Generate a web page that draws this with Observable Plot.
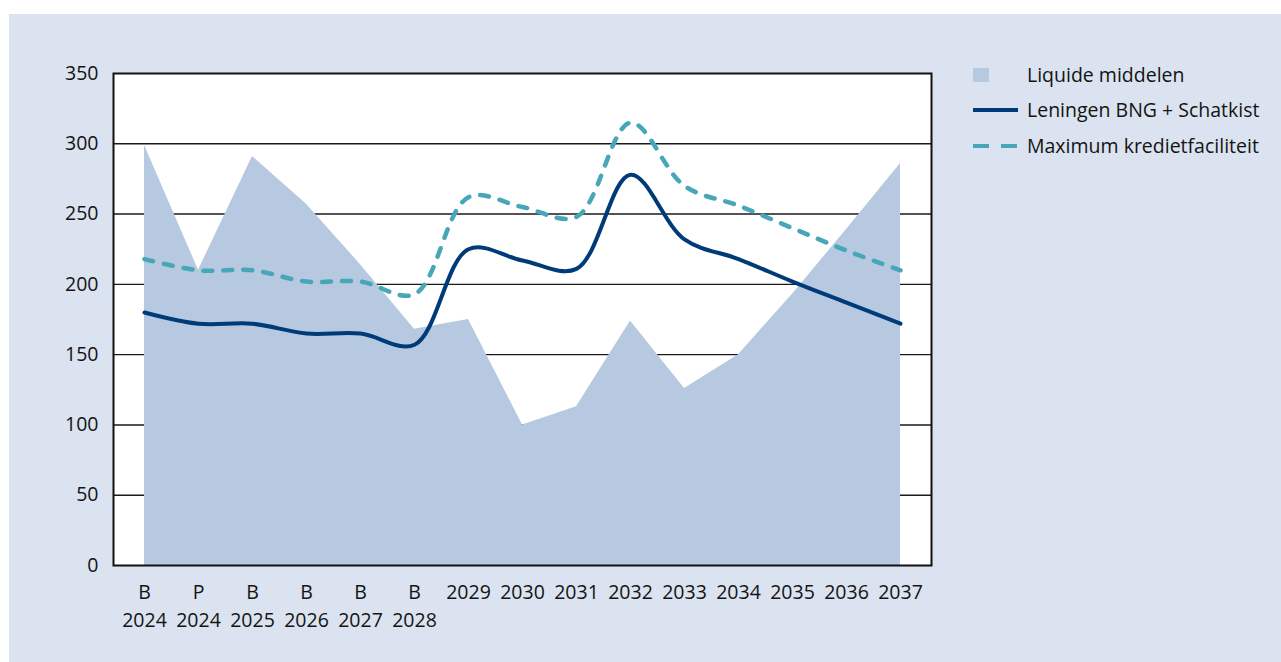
<!DOCTYPE html>
<html>
<head>
<meta charset="utf-8">
<script src="https://cdn.jsdelivr.net/npm/d3@7"></script>
<script src="https://cdn.jsdelivr.net/npm/@observablehq/plot@0.6"></script>
<style>
  html, body { margin: 0; padding: 0; background: #ffffff; }
  body { width: 1281px; height: 662px; position: relative; overflow: hidden; font-family: "Open Sans", "Noto Sans", sans-serif; }
  #panel { position: absolute; left: 9px; top: 14px; width: 1272px; height: 648px; background: #dae3ef; }
  #chart { position: absolute; left: 0; top: 0; }
  .legend { position: absolute; left: 973px; font-size: 19.5px; color: #141414; }
  .legend .item { position: absolute; left: 0; height: 24px; width: 300px; white-space: nowrap; }
  .legend .sym { position: absolute; left: 0; top: 0; width: 46px; height: 24px; }
  .legend .txt { position: absolute; left: 54px; top: 0; line-height: 24px; }
</style>
</head>
<body>
<div id="panel"></div>
<div id="chart"></div>
<div class="legend">
  <div class="item" style="top:63px">
    <svg class="sym" width="46" height="24"><rect x="0" y="5" width="16" height="14" fill="#b6c9e0"></rect></svg>
    <span class="txt">Liquide middelen</span>
  </div>
  <div class="item" style="top:98px">
    <svg class="sym" width="46" height="24"><line x1="0" x2="45" y1="12" y2="12" stroke="#003b79" stroke-width="4"></line></svg>
    <span class="txt">Leningen BNG + Schatkist</span>
  </div>
  <div class="item" style="top:134px">
    <svg class="sym" width="46" height="24"><line x1="0" x2="45" y1="12" y2="12" stroke="#47a7b8" stroke-width="4" stroke-dasharray="16,12"></line></svg>
    <span class="txt">Maximum kredietfaciliteit</span>
  </div>
</div>
<script>
// Categories and their tick labels
const categories = ["B2024","P2024","B2025","B2026","B2027","B2028","2029","2030","2031","2032","2033","2034","2035","2036","2037"];
const tickLabels = ["B\n2024","P\n2024","B\n2025","B\n2026","B\n2027","B\n2028","2029","2030","2031","2032","2033","2034","2035","2036","2037"];

// Series values
const liquideMiddelen = [299, 210, 291, 257, 214, 168, 175, 100, 113, 174, 126, 150, 193, 239, 286];
const leningen        = [180, 172, 172, 165, 165, 157, 225, 217, 211, 278, 232, 218, 202, 187, 172];
const maxKrediet      = [218, 210, 210, 202, 202, 193, 262, 255, 248, 315, 270, 256, 240, 224, 210];

const yTicks = [0, 50, 100, 150, 200, 250, 300, 350];
const gridValues = [50, 100, 150, 200, 250, 300];

const data = categories.map((c, i) => ({
  cat: c,
  liq: liquideMiddelen[i],
  len: leningen[i],
  max: maxKrediet[i]
}));
const labelOf = new Map(categories.map((c, i) => [c, tickLabels[i]]));

const chart = Plot.plot({
  width: 1281,
  height: 662,
  marginLeft: 113,
  marginRight: 350,
  marginTop: 73,
  marginBottom: 97,
  style: { background: "transparent", fontFamily: "'Open Sans', 'Noto Sans', sans-serif", fontSize: "19.5px", color: "#141414" },
  x: { type: "point", domain: categories, range: [141, 903], padding: 0 },
  y: { domain: [0, 350] },
  marks: [
    Plot.frame({ fill: "#ffffff", stroke: "none" }),
    Plot.ruleY(gridValues, { stroke: "#1a1a1a", strokeWidth: 1.4 }),
    Plot.areaY(data, { x: "cat", y: "liq", fill: "#b6c9e0", curve: "linear" }),
    Plot.line(data, { x: "cat", y: "max", stroke: "#47a7b8", strokeWidth: 4.5, strokeDasharray: "9,11", strokeLinecap: "round", curve: "catmull-rom" }),
    Plot.line(data, { x: "cat", y: "len", stroke: "#003b79", strokeWidth: 4, curve: "catmull-rom" }),
    Plot.frame({ stroke: "#111", strokeWidth: 2 }),
    Plot.axisY({ ticks: yTicks, tickSize: 0, tickPadding: 15, label: null, fontSize: 19.5, fill: "#141414" }),
    Plot.axisX({ tickSize: 0, tickPadding: 14, label: null, fontSize: 19.5, lineHeight: 1.42, fill: "#141414", tickFormat: d => labelOf.get(d) })
  ]
});
document.getElementById("chart").appendChild(chart);
</script>
</body>
</html>
